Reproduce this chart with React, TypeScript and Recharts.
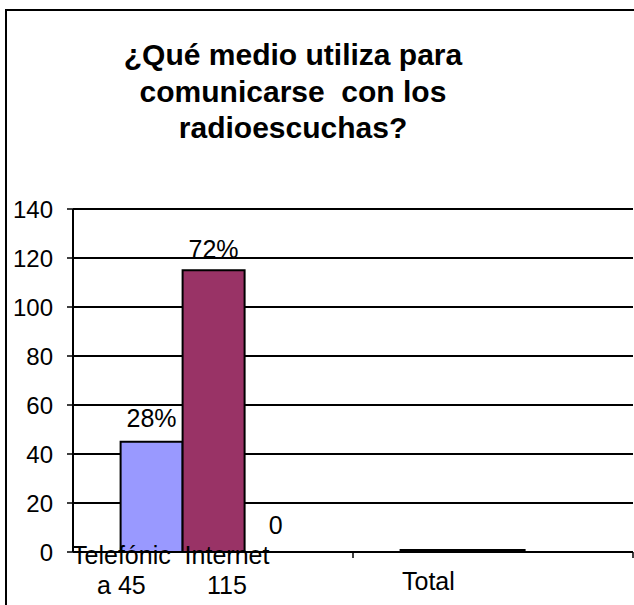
import { Bar, BarChart, CartesianGrid, LabelList, XAxis, YAxis } from 'recharts';

const categories = ['', 'Total'];
const telefonica = [45, 0];
const internet = [115, 0];
const sinMedio = [0, null];
const telefonicaLabels = ['28%', ''];
const internetLabels = ['72%', ''];
const sinMedioLabels = ['0', ''];
// lines written under each category (Excel wraps them under the bars)
const categoryText = [
  [['Telefónic', 'a 45'], ['Internet', '115']],
  [['Total']],
];
const yTicks = [0, 20, 40, 60, 80, 100, 120, 140];
const titleLines = ['¿Qué medio utiliza para', 'comunicarse  con los', 'radioescuchas?'];

const data = categories.map((cat, i) => ({
  cat,
  tel: telefonica[i],
  int: internet[i],
  sin: sinMedio[i],
  telLbl: telefonicaLabels[i],
  intLbl: internetLabels[i],
  sinLbl: sinMedioLabels[i],
}));

const SANS = '"Liberation Sans", Arial, Helvetica, sans-serif';
const GAP = 0.17;

function CategoryTick(props: any) {
  const { x, y, payload, index } = props;
  const half = payload?.offset || 140;
  const bar = (2 * half * (1 - 2 * GAP)) / 3;
  const groups = categoryText[index] ?? [];
  const shifts = index === 0 ? [-bar - 30, 14] : [-bar - 3];
  return (
    <g>
      <line x1={x + half} x2={x + half} y1={y} y2={y + 6} stroke="#000" strokeWidth={1.5} />
      {groups.map((lines, g) => (
        <text
          key={g}
          x={x + shifts[g]}
          y={y}
          textAnchor="middle"
          fontFamily={SANS}
          fontSize={25}
          fill="#000"
        >
          {lines.map((ln, k) => (
            <tspan key={k} x={x + shifts[g]} dy={k === 0 ? (lines.length === 1 ? 38 : 12) : 30}>
              {ln}
            </tspan>
          ))}
        </text>
      ))}
    </g>
  );
}

export default function App() {
  return (
    <div
      style={{
        position: 'absolute',
        left: 0,
        top: 0,
        width: 634,
        height: 605,
        overflow: 'hidden',
        background: '#fff',
      }}
    >
      <div
        style={{
          position: 'absolute',
          left: 5,
          top: 9,
          width: 700,
          height: 700,
          border: '2px solid #000',
        }}
      />
      <div
        style={{
          position: 'absolute',
          left: 0,
          top: 37,
          width: 586,
          textAlign: 'center',
          fontFamily: SANS,
          fontWeight: 'bold',
          fontSize: 30,
          lineHeight: '36.5px',
          color: '#000',
          whiteSpace: 'pre',
        }}
      >
        {titleLines.join('\n')}
      </div>
      <div style={{ position: 'absolute', left: 0, top: 0 }}>
        <BarChart
          width={634}
          height={605}
          data={data}
          margin={{ top: 209, right: 1, bottom: 0, left: 0 }}
          barCategoryGap="17%"
          barGap={0}
        >
          <CartesianGrid vertical={false} stroke="#000" strokeWidth={2} />
          <XAxis
            dataKey="cat"
            height={53}
            axisLine={{ stroke: '#000', strokeWidth: 1.5 }}
            tickLine={false}
            tickSize={0}
            tickMargin={0}
            interval={0}
            tick={<CategoryTick />}
          />
          <YAxis
            width={73}
            domain={[0, 140]}
            ticks={yTicks}
            interval={0}
            axisLine={{ stroke: '#000', strokeWidth: 2 }}
            tickLine={{ stroke: '#000', strokeWidth: 1.5 }}
            tickSize={6}
            tickMargin={14}
            tick={{ fill: '#000', fontSize: 24, fontFamily: SANS }}
          />
          <Bar dataKey="tel" fill="#9999FF" stroke="#000" strokeWidth={2} minPointSize={2} isAnimationActive={false}>
            <LabelList dataKey="telLbl" position="top" offset={15} fill="#000" fontSize={25} fontFamily={SANS} />
          </Bar>
          <Bar dataKey="int" fill="#993366" stroke="#000" strokeWidth={2} minPointSize={2} isAnimationActive={false}>
            <LabelList dataKey="intLbl" position="top" offset={12} fill="#000" fontSize={25} fontFamily={SANS} />
          </Bar>
          <Bar dataKey="sin" fill="#FFFFCC" fillOpacity={0} minPointSize={1} isAnimationActive={false}>
            <LabelList dataKey="sinLbl" position="top" offset={17} fill="#000" fontSize={25} fontFamily={SANS} />
          </Bar>
        </BarChart>
      </div>
    </div>
  );
}
